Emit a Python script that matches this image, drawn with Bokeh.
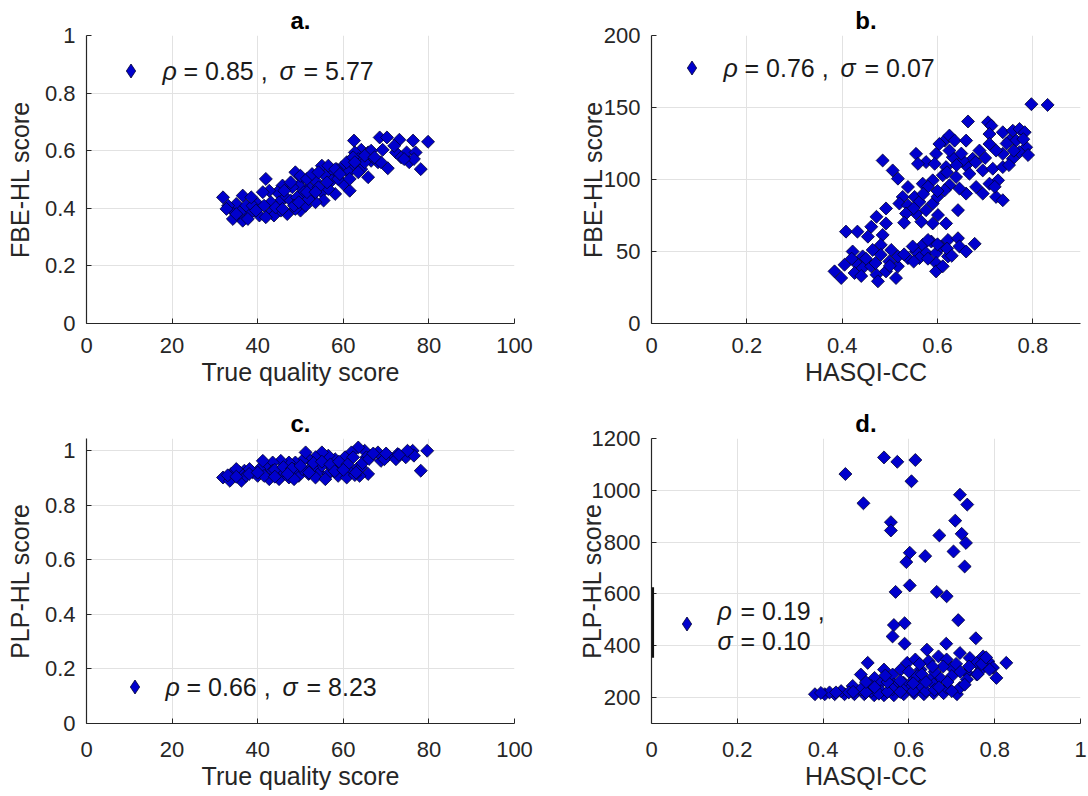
import math
from bokeh.plotting import figure
from bokeh.layouts import column, row
from bokeh.models import (Range1d, FixedTicker, NumeralTickFormatter, Legend,
                          LegendItem, Label, BoxAnnotation)
from bokeh.embed import file_html
from bokeh.resources import INLINE

# ---------------- data ----------------
# panel a: True quality score vs FBE-HL score
a_true = [62.5, 68.5, 70.2, 73.1, 76.3, 79.8, 69.2, 72.3, 74.8, 76.9,
          75.4, 78.1, 70.4, 64.2, 65.8, 62.7, 63.5, 66.5, 68.1, 64.2,
          65.8, 61.9, 59.6, 61.2, 57.3, 55.0, 55.8, 53.5, 51.9, 57.3,
          58.1, 61.5, 60.0, 55.0, 55.4, 52.7, 50.4, 48.8, 49.6, 50.8,
          48.1, 45.8, 46.5, 44.6, 45.0, 42.7, 41.9, 41.2, 40.0, 43.1,
          43.1, 40.4, 38.1, 36.5, 34.2, 33.8, 31.9, 35.0, 36.5, 37.3,
          50.0, 46.9, 43.8, 47.7, 49.2, 51.2, 53.5, 56.5, 58.8, 60.8,
          62.3, 66.5, 68.8, 33.1, 35.8, 38.8, 45.4, 48.8, 51.9, 54.2,
          56.2, 58.5, 63.5, 65.0, 76.5, 73.5, 38.5, 39.6, 41.5, 44.2,
          45.8, 48.5, 46.2, 47.7, 50.0, 51.5, 52.7, 54.2, 56.5, 58.1,
          59.2, 61.5, 62.7, 65.0, 67.3, 71.9, 74.2, 32.7, 35.0, 37.7,
          41.9, 51.5, 53.5, 49.6]
a_fbe = [0.635, 0.646, 0.646, 0.638, 0.635, 0.631, 0.603, 0.594, 0.594, 0.594,
         0.560, 0.536, 0.539, 0.603, 0.594, 0.594, 0.571, 0.565, 0.560, 0.536,
         0.508, 0.548, 0.542, 0.525, 0.525, 0.548, 0.513, 0.496, 0.473, 0.496,
         0.450, 0.461, 0.484, 0.456, 0.427, 0.444, 0.502, 0.525, 0.479, 0.456,
         0.473, 0.479, 0.438, 0.456, 0.421, 0.461, 0.502, 0.456, 0.415, 0.421,
         0.386, 0.375, 0.380, 0.357, 0.363, 0.398, 0.438, 0.415, 0.444, 0.409,
         0.392, 0.380, 0.375, 0.427, 0.438, 0.409, 0.421, 0.467, 0.502, 0.560,
         0.577, 0.600, 0.560, 0.409, 0.386, 0.409, 0.392, 0.398, 0.432, 0.473,
         0.490, 0.536, 0.525, 0.560, 0.571, 0.577, 0.438, 0.392, 0.409, 0.403,
         0.398, 0.409, 0.461, 0.490, 0.513, 0.502, 0.519, 0.525, 0.548, 0.536,
         0.519, 0.502, 0.560, 0.583, 0.577, 0.617, 0.571, 0.398, 0.380, 0.363,
         0.369, 0.456, 0.456, 0.421]

# panel b: HASQI-CC vs FBE-HL score
b_hasqi = [0.797, 0.831, 0.664, 0.706, 0.713, 0.615, 0.625, 0.636, 0.660, 0.709,
           0.737, 0.758, 0.772, 0.783, 0.751, 0.765, 0.786, 0.772, 0.758, 0.737,
           0.723, 0.709, 0.688, 0.674, 0.660, 0.653, 0.632, 0.625, 0.604, 0.597,
           0.576, 0.555, 0.485, 0.506, 0.517, 0.559, 0.594, 0.618, 0.611, 0.639,
           0.667, 0.695, 0.716, 0.737, 0.727, 0.709, 0.681, 0.660, 0.695, 0.723,
           0.737, 0.646, 0.625, 0.615, 0.590, 0.569, 0.538, 0.552, 0.527, 0.520,
           0.538, 0.562, 0.590, 0.576, 0.555, 0.534, 0.566, 0.590, 0.618, 0.643,
           0.601, 0.492, 0.472, 0.461, 0.492, 0.408, 0.432, 0.454, 0.485, 0.481,
           0.464, 0.443, 0.422, 0.429, 0.405, 0.384, 0.398, 0.426, 0.443, 0.461,
           0.472, 0.475, 0.492, 0.499, 0.513, 0.517, 0.503, 0.481, 0.538, 0.555,
           0.569, 0.587, 0.576, 0.597, 0.608, 0.622, 0.643, 0.646, 0.622, 0.597,
           0.597, 0.611, 0.678, 0.562, 0.548, 0.517, 0.745, 0.760, 0.700, 0.680,
           0.650, 0.620, 0.640, 0.580, 0.600, 0.570, 0.550, 0.530, 0.600, 0.720,
           0.750, 0.780, 0.790, 0.450, 0.470, 0.500, 0.440, 0.420, 0.530, 0.580,
           0.600, 0.620, 0.630, 0.580, 0.550, 0.660]
b_fbe = [152.3, 151.8, 140.3, 139.7, 137.4, 127.0, 130.5, 127.0, 127.0, 131.6,
         132.8, 133.9, 135.1, 132.8, 127.0, 127.0, 122.4, 119.0, 114.4, 117.8,
         120.1, 124.7, 120.1, 114.4, 109.8, 113.2, 115.5, 120.1, 124.7, 117.8,
         112.1, 117.8, 113.2, 106.3, 100.6, 110.9, 110.9, 108.6, 102.9, 101.7,
         104.0, 106.3, 107.5, 108.6, 99.4, 97.1, 94.8, 90.2, 90.2, 87.9,
         85.6, 93.7, 96.0, 92.5, 99.4, 97.1, 94.8, 87.9, 87.9, 83.3,
         82.2, 84.5, 83.3, 78.7, 76.4, 76.4, 70.7, 69.5, 69.5, 78.7,
         75.3, 79.9, 74.1, 67.2, 69.5, 63.8, 63.8, 60.3, 61.5, 54.6,
         51.1, 46.6, 50.0, 42.0, 40.8, 36.2, 31.6, 35.1, 38.5, 39.7,
         33.9, 29.3, 36.2, 43.1, 31.6, 39.7, 51.1, 47.7, 45.4, 50.0,
         54.6, 56.9, 48.9, 48.9, 53.5, 58.0, 59.2, 53.5, 46.6, 42.0,
         36.2, 39.7, 55.3, 45.4, 53.5, 46.6, 125.0, 120.0, 115.0, 112.0,
         118.0, 105.0, 110.0, 95.0, 88.0, 90.0, 80.0, 70.0, 92.0, 95.0,
         110.0, 128.0, 117.0, 45.0, 42.0, 40.0, 33.0, 45.0, 48.0, 45.0,
         55.0, 52.0, 47.0, 58.0, 43.0, 50.0]

# panel c: True quality score vs PLP-HL score
c_true = [79.6, 78.1, 76.2, 74.6, 72.7, 70.4, 68.8, 66.5, 65.0, 63.5,
          61.9, 60.4, 63.1, 64.2, 65.8, 63.8, 61.2, 59.6, 58.1, 56.5,
          55.0, 53.5, 51.9, 50.4, 48.8, 47.3, 45.4, 43.5, 41.9, 40.4,
          38.8, 36.9, 35.8, 33.8, 31.9, 33.5, 36.2, 37.3, 40.0, 42.7,
          45.0, 47.3, 49.6, 51.9, 54.2, 56.5, 58.8, 60.8, 62.7, 57.3,
          55.0, 52.7, 50.4, 48.1, 45.8, 43.5, 41.5, 51.2, 68.1, 69.6,
          72.3, 76.5, 75.0, 65.4, 62.3, 41.2, 38.1, 35.0, 48.5, 53.5,
          55.8, 33.0, 35.0, 38.0, 40.0, 44.0, 46.0, 48.0, 50.0, 53.0,
          55.0, 57.0, 59.0, 61.0, 64.5, 66.0, 67.0, 70.0, 73.0, 44.0,
          47.0, 52.0, 58.0, 60.0, 63.0]
c_plp = [1.0, 0.927, 1.0, 0.976, 0.988, 0.982, 0.963, 0.982, 1.0, 1.012,
         0.994, 0.976, 0.933, 0.939, 0.915, 0.908, 0.927, 0.939, 0.969, 0.982,
         0.994, 0.976, 0.969, 0.963, 0.957, 0.957, 0.963, 0.957, 0.939, 0.933,
         0.921, 0.927, 0.921, 0.915, 0.902, 0.890, 0.890, 0.908, 0.908, 0.896,
         0.896, 0.902, 0.908, 0.915, 0.921, 0.915, 0.908, 0.902, 0.911, 0.939,
         0.945, 0.939, 0.933, 0.927, 0.927, 0.927, 0.908, 0.994, 0.994, 0.969,
         0.969, 0.982, 1.0, 0.976, 0.976, 0.963, 0.933, 0.933, 0.896, 0.902,
         0.896, 0.910, 0.905, 0.915, 0.920, 0.930, 0.940, 0.935, 0.945, 0.955,
         0.960, 0.950, 0.960, 0.950, 0.955, 0.970, 0.990, 0.990, 0.985, 0.905,
         0.915, 0.920, 0.925, 0.930, 0.920]

# panel d: HASQI-CC vs PLP-HL score
d_hasqi = [0.542, 0.573, 0.615, 0.452, 0.606, 0.494, 0.719, 0.736, 0.708, 0.558,
           0.558, 0.671, 0.723, 0.733, 0.602, 0.594, 0.638, 0.704, 0.730, 0.569,
           0.602, 0.665, 0.688, 0.715, 0.565, 0.590, 0.562, 0.590, 0.687, 0.756,
           0.827, 0.504, 0.488, 0.520, 0.542, 0.562, 0.581, 0.596, 0.615, 0.627,
           0.642, 0.646, 0.669, 0.688, 0.700, 0.719, 0.742, 0.758, 0.773, 0.785,
           0.796, 0.735, 0.758, 0.673, 0.650, 0.612, 0.588, 0.565, 0.535, 0.512,
           0.469, 0.473, 0.450, 0.427, 0.404, 0.381, 0.496, 0.519, 0.542, 0.565,
           0.588, 0.612, 0.635, 0.658, 0.681, 0.712, 0.688, 0.719, 0.735, 0.658,
           0.627, 0.604, 0.585, 0.562, 0.535, 0.512, 0.442, 0.488, 0.619, 0.700,
           0.769, 0.788, 0.804, 0.415, 0.460, 0.395, 0.430, 0.470, 0.500, 0.530,
           0.550, 0.580, 0.610, 0.640, 0.660, 0.700, 0.520, 0.550, 0.580, 0.610,
           0.630, 0.660, 0.680, 0.710, 0.740, 0.770, 0.760, 0.720, 0.690, 0.640,
           0.600, 0.545, 0.500, 0.670, 0.730, 0.780, 0.655, 0.625]
d_plp = [1127, 1110, 1117, 1063, 1035, 950, 983, 945, 883, 877,
         845, 826, 832, 797, 759, 723, 746, 764, 706, 608,
         633, 608, 591, 499, 480, 487, 436, 408, 408, 429,
         334, 334, 289, 276, 308, 289, 308, 334, 347, 308,
         385, 340, 359, 347, 315, 372, 353, 334, 359, 340,
         315, 296, 289, 276, 270, 270, 257, 251, 257, 245,
         245, 213, 213, 213, 213, 213, 213, 209, 209, 209,
         213, 217, 213, 217, 217, 213, 238, 238, 270, 251,
         245, 238, 232, 232, 225, 225, 225, 232, 283, 283,
         308, 308, 276, 220, 220, 218, 220, 222, 220, 215,
         222, 222, 225, 225, 230, 225, 240, 260, 265, 255,
         290, 300, 320, 330, 320, 330, 290, 300, 260, 260,
         300, 285, 260, 240, 250, 355, 320, 330]

titles = ["a.", "b.", "c.", "d."]
x_labels = ["True quality score", "HASQI-CC", "True quality score", "HASQI-CC"]
y_labels = ["FBE-HL score", "FBE-HL score", "PLP-HL score", "PLP-HL score"]
x_ticks_true = [0, 20, 40, 60, 80, 100]
x_ticks_b = [0, 0.2, 0.4, 0.6, 0.8]
x_ticks_d = [0, 0.2, 0.4, 0.6, 0.8, 1]
y_ticks_frac = [0, 0.2, 0.4, 0.6, 0.8, 1]
y_ticks_b = [0, 50, 100, 150, 200]
y_ticks_d = [200, 400, 600, 800, 1000, 1200]
rho = ["0.85", "0.76", "0.66", "0.19"]
sigma = ["5.77", "0.07", "8.23", "0.10"]

FONT = "Liberation Sans"
AX = "#262626"
TXT = "#1a1a1a"
FILL = "#0000CD"
EDGE = "#00002e"
NAN = float("nan")


def make_panel(title, w, h, bl, br, bt, bb, xr, yr, xt, yt, xl, yl,
               xfmt=None, yfmt=None, ylab_standoff=8, xtick_standoff=14):
    p = figure(width=w, height=h, min_border_left=bl, min_border_right=br,
               min_border_top=bt, min_border_bottom=bb,
               x_range=Range1d(*xr), y_range=Range1d(*yr),
               output_backend="svg", toolbar_location=None, title=title)
    p.outline_line_color = None
    p.background_fill_color = "white"
    p.border_fill_color = "white"
    p.title.align = "center"
    p.title.text_font = FONT
    p.title.text_font_size = "24px"
    p.title.text_font_style = "bold"
    p.title.text_color = "#000000"
    p.title.standoff = 4
    p.xaxis.ticker = FixedTicker(ticks=xt)
    p.yaxis.ticker = FixedTicker(ticks=yt)
    if xfmt:
        p.xaxis.formatter = NumeralTickFormatter(format=xfmt)
    if yfmt:
        p.yaxis.formatter = NumeralTickFormatter(format=yfmt)
    p.xaxis.axis_label = xl
    p.yaxis.axis_label = yl
    for ax in (p.xaxis, p.yaxis):
        ax.axis_line_color = AX
        ax.axis_line_width = 1.2
        ax.major_tick_line_color = AX
        ax.major_tick_in = 5
        ax.major_tick_out = 0
        ax.minor_tick_line_color = None
        ax.major_label_text_font = FONT
        ax.major_label_text_font_size = "22px"
        ax.major_label_text_color = AX
        ax.axis_label_text_font = FONT
        ax.axis_label_text_font_size = "25px"
        ax.axis_label_text_font_style = "normal"
        ax.axis_label_text_color = AX
    p.xaxis.major_label_standoff = xtick_standoff
    p.xaxis.axis_label_standoff = 2
    p.yaxis.major_label_standoff = 11
    p.yaxis.axis_label_standoff = ylab_standoff
    p.grid.grid_line_color = "#e2e2e2"
    p.grid.grid_line_width = 1
    return p


def add_points(p, x, y):
    p.scatter(x, y, marker="square", angle=math.pi / 4, size=9.2,
              fill_color=FILL, line_color=EDGE, line_width=0.8)


def add_legend(p, gx, gy):
    # legend key renderer: a single NaN point (never drawn in the plot area)
    key = p.scatter([NAN], [NAN], marker="diamond", fill_color=FILL,
                    line_color=EDGE, line_width=0.8)
    g = 35
    leg = Legend(items=[LegendItem(label=" ", renderers=[key])],
                 location=(gx - g / 2, gy - g / 2), padding=0, margin=0,
                 glyph_width=g, glyph_height=g, label_height=g, label_width=1,
                 label_standoff=0, spacing=0, label_text_font_size="6px",
                 background_fill_alpha=0, border_line_alpha=0)
    p.add_layout(leg)


def add_text(p, x, y, text, italic=False):
    p.add_layout(Label(x=x, y=y, x_units="screen", y_units="screen", text=text,
                       text_font=FONT, text_font_style="italic" if italic else "normal",
                       text_font_size="25px", text_baseline="middle",
                       text_color=TXT))


def add_stats(p, x0, y, r, s):
    add_text(p, x0, y, "\u03c1", True)
    add_text(p, x0 + 21, y, "= " + r + " ,")
    add_text(p, x0 + 117, y, "\u03c3", True)
    add_text(p, x0 + 141, y, "= " + s)


# panel a
pa = make_panel(titles[0], 560, 393, 86, 46, 35, 70, (0, 100), (0, 1),
                x_ticks_true, y_ticks_frac, x_labels[0], y_labels[0],
                yfmt="0.[0]")
add_points(pa, a_true, a_fbe)
add_legend(pa, 44, 253)
add_stats(pa, 76, 253, rho[0], sigma[0])

# panel b
pb = make_panel(titles[1], 528, 393, 91, 8, 35, 70, (0, 0.9), (0, 200),
                x_ticks_b, y_ticks_b, x_labels[1], y_labels[1],
                xfmt="0.[0]", ylab_standoff=-6)
add_points(pb, b_hasqi, b_fbe)
add_legend(pb, 40, 256)
add_stats(pb, 72, 256, rho[1], sigma[1])

# panel c
pc = make_panel(titles[2], 560, 403, 86, 46, 45, 73, (0, 100), (0, 1.045),
                x_ticks_true, y_ticks_frac, x_labels[2], y_labels[2],
                yfmt="0.[0]", xtick_standoff=18)
add_points(pc, c_true, c_plp)
add_legend(pc, 48, 37)
add_stats(pc, 79, 37, rho[2], sigma[2])

# panel d
pd = make_panel(titles[3], 528, 403, 91, 8, 45, 73, (0, 1), (100, 1200),
                x_ticks_d, y_ticks_d, x_labels[3], y_labels[3],
                xfmt="0.[0]", ylab_standoff=-17, xtick_standoff=18)
add_points(pd, d_hasqi, d_plp)
add_legend(pd, 35, 100)
add_text(pd, 66, 113, "\u03c1", True)
add_text(pd, 89, 113, "= " + rho[3] + " ,")
add_text(pd, 66, 83, "\u03c3", True)
add_text(pd, 89, 83, "= " + sigma[3])
pd.add_layout(BoxAnnotation(left=0, right=0.006, bottom=354, top=626,
                            fill_color="#111111", fill_alpha=1, line_alpha=0))

layout = column(row(pa, pb), row(pc, pd))
open("out.html", "w").write(file_html(layout, INLINE))
